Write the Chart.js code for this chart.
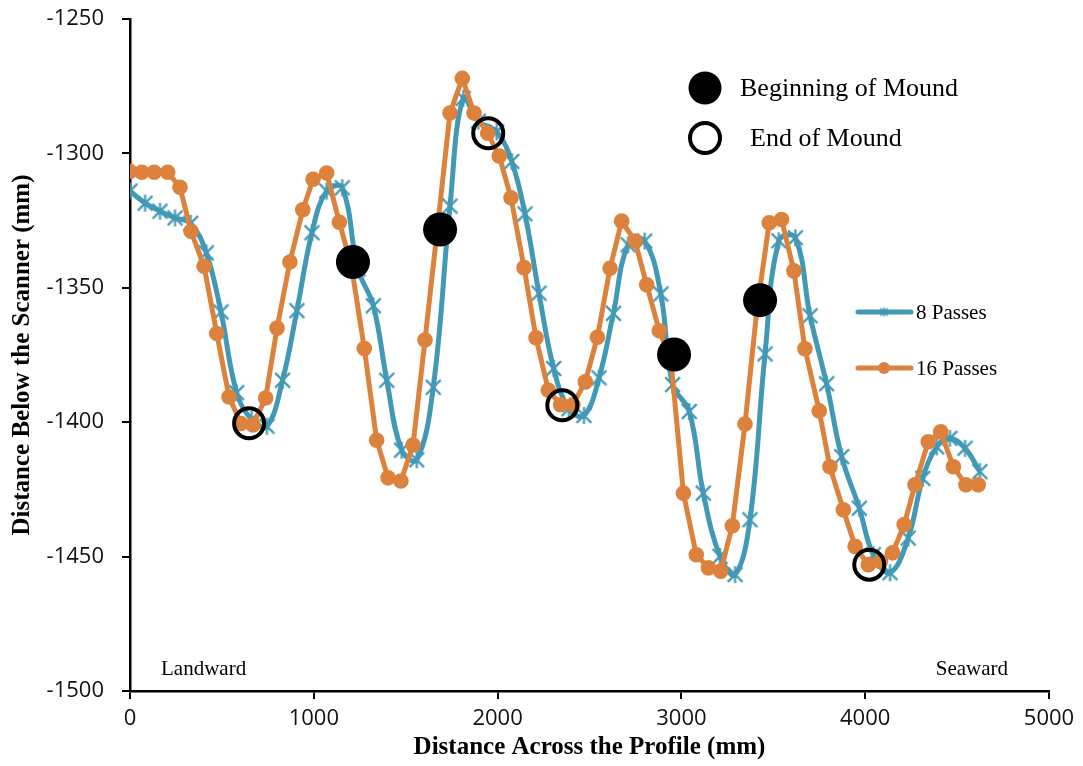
<!DOCTYPE html>
<html>
<head>
<meta charset="utf-8">
<script src="https://cdn.jsdelivr.net/npm/chart.js@4.4.0/dist/chart.umd.min.js"></script>
<style>
  html, body { margin: 0; padding: 0; background: #fff; }
  #wrap { width: 1083px; height: 766px; }
</style>
</head>
<body>
<div id="wrap"><canvas id="chart" width="1083" height="766"></canvas></div>
<script>
// 8 passes (teal, star markers)
const pass8X = [0,82,163,245,330,415,495,580,662,745,830,908,990,1070,1155,1240,1324,1397,1478,1560,
  1650,1741,1813,1895,1995,2077,2149,2225,2305,2388,2470,2552,2630,2710,2800,2888,2952,3043,3119,3210,
  3292,3373,3455,3530,3620,3700,3790,3872,3968,4044,4135,4234,4313,4389,4461,4543,4624];
const pass8Y = [-1314,-1318.5,-1321.5,-1324,-1326,-1337,-1359,-1389,-1399,-1401.5,-1384.4,-1358.5,-1329.5,-1314,-1312.8,
  -1343,-1356.7,-1384.4,-1410.4,-1414,-1387,-1319.6,-1279.5,-1288,-1292,-1303,-1322.5,-1352,-1380,-1395,
  -1397.5,-1383.5,-1359.5,-1334,-1332.6,-1352.3,-1386,-1396,-1426.4,-1449.9,-1456.7,-1436.3,-1374.6,-1332.5,-1331.4,
  -1360.4,-1385.7,-1412.8,-1432,-1449.3,-1456,-1443.1,-1420.9,-1409.2,-1406,-1409.7,-1418.4];

// 16 passes (orange, round markers)
const pass16X = [0,64,132,205,272,332,403,472,539,604,669,738,800,870,940,996,1070,1139,1205,1275,
  1342,1404,1474,1540,1605,1674,1741,1808,1872,1946,2009,2073,2144,2209,2276,2343,2410,2477,2543,2612,
  2675,2748,2811,2880,2943,3011,3081,3147,3214,3277,3346,3411,3478,3545,3612,3672,3750,3808,3881,3945,
  4017,4083,4149,4212,4271,4343,4411,4480,4548,4615];
const pass16Y = [-1306.7,-1307,-1307,-1307,-1312.6,-1329,-1342,-1367,-1390.6,-1400.5,-1401,-1391,-1365,-1340.4,-1321,
  -1309.6,-1307.3,-1325.6,-1342,-1372.6,-1406.7,-1420.7,-1421.9,-1408.5,-1369.4,-1327,-1285,-1272.1,-1285,-1292.5,
  -1301,-1316.5,-1342.5,-1368.6,-1388.1,-1393.5,-1393.5,-1385,-1368.4,-1342.7,-1325.2,-1332.6,-1348.9,-1366,-1377,
  -1426.4,-1449.3,-1454.2,-1455.4,-1438.5,-1400.7,-1358,-1325.8,-1324.6,-1343.7,-1372.7,-1395.8,-1416.6,-1432.6,-1446.2,
  -1453,-1451.8,-1448.6,-1438.1,-1423.3,-1407.3,-1403.6,-1416.6,-1423.3,-1423.3];

// mound markers
const beginX = [1213, 1687, 2960, 3428];
const beginY = [-1340.4, -1328.3, -1374.8, -1354.6];
const endX = [648, 1949, 2352, 4022];
const endY = [-1400.4, -1292.5, -1393.7, -1453];

const xTicks = [0, 1000, 2000, 3000, 4000, 5000];
const yTicks = [-1500, -1450, -1400, -1350, -1300, -1250];

const TEAL = '#4299b5';
const ORANGE = '#dc823c';
const serif = '"Liberation Serif", "Times New Roman", serif';
const sans = '"Open Sans", sans-serif';

function pts(xs, ys) {
  return xs.map((x, i) => ({ x: x, y: ys[i] }));
}

// Excel style star: X with a vertical stroke
function starMark(size, lw) {
  const c = document.createElement('canvas');
  c.width = size; c.height = size;
  const g = c.getContext('2d');
  g.strokeStyle = TEAL;
  g.lineWidth = lw;
  const m = lw / 2 + 1;
  g.beginPath();
  g.moveTo(m, m); g.lineTo(size - m, size - m);
  g.moveTo(size - m, m); g.lineTo(m, size - m);
  g.moveTo(size / 2, 1); g.lineTo(size / 2, size - 1);
  g.stroke();
  return c;
}
const star = starMark(19, 2.2);
const smallStar = starMark(11, 1.6);

const annotate = {
  id: 'annotate',
  afterDraw(chart) {
    const ctx = chart.ctx;
    ctx.save();
    ctx.textBaseline = 'middle';
    ctx.fillStyle = '#000';

    // mound legend
    ctx.beginPath(); ctx.arc(705, 88, 16.5, 0, Math.PI * 2); ctx.fill();
    ctx.lineWidth = 4; ctx.strokeStyle = '#000';
    ctx.beginPath(); ctx.arc(705, 138, 15, 0, Math.PI * 2); ctx.stroke();
    ctx.font = '26px ' + serif;
    ctx.fillText('Beginning of Mound', 740, 89);
    ctx.fillText('End of Mound', 750, 139);

    // series legend
    ctx.lineCap = 'round';
    ctx.lineWidth = 5;
    ctx.strokeStyle = TEAL;
    ctx.beginPath(); ctx.moveTo(858, 312); ctx.lineTo(911, 312); ctx.stroke();
    ctx.drawImage(smallStar, 884 - 5.5, 312 - 5.5);
    ctx.strokeStyle = ORANGE;
    ctx.beginPath(); ctx.moveTo(858, 368); ctx.lineTo(911, 368); ctx.stroke();
    ctx.fillStyle = ORANGE;
    ctx.beginPath(); ctx.arc(884, 368, 6, 0, Math.PI * 2); ctx.fill();

    ctx.fillStyle = '#000';
    ctx.font = '21px ' + serif;
    ctx.fillText('8 Passes', 916, 313);
    ctx.fillText('16 Passes', 916, 369);

    // direction labels
    ctx.fillText('Landward', 161, 669);
    ctx.textAlign = 'right';
    ctx.fillText('Seaward', 1008, 669);
    ctx.restore();
  }
};

new Chart(document.getElementById('chart'), {
  type: 'scatter',
  data: {
    datasets: [
      {
        label: 'Beginning of Mound',
        data: pts(beginX, beginY),
        pointRadius: 17,
        pointBackgroundColor: '#000',
        pointBorderWidth: 0,
        showLine: false
      },
      {
        label: 'End of Mound',
        data: pts(endX, endY),
        pointRadius: 15,
        pointBackgroundColor: 'rgba(0,0,0,0)',
        pointBorderColor: '#000',
        pointBorderWidth: 4,
        showLine: false
      },
      {
        label: '16 Passes',
        data: pts(pass16X, pass16Y),
        showLine: true,
        borderColor: ORANGE,
        borderWidth: 5,
        tension: 0,
        pointRadius: 7.8,
        pointBackgroundColor: ORANGE,
        pointBorderWidth: 0
      },
      {
        label: '8 Passes',
        data: pts(pass8X, pass8Y),
        showLine: true,
        borderColor: TEAL,
        borderWidth: 5,
        tension: 0.4,
        pointStyle: star,
        pointRadius: 9
      }
    ]
  },
  options: {
    responsive: false,
    animation: false,
    devicePixelRatio: 1,
    layout: { padding: { top: 17, right: 34, left: 0, bottom: 0 } },
    plugins: {
      legend: { display: false },
      tooltip: { enabled: false }
    },
    scales: {
      x: {
        type: 'linear',
        min: 0, max: 5000,
        afterBuildTicks: s => { s.ticks = xTicks.map(v => ({ value: v })); },
        afterFit: s => { s.height = 75; s.paddingLeft = 0; s.paddingRight = 0; },
        ticks: { color: '#111', font: { family: sans, size: 22 }, padding: 7, callback: v => String(v) },
        grid: { drawOnChartArea: false, drawTicks: true, tickLength: 8, color: '#000', lineWidth: 2 },
        border: { color: '#000', width: 2.5 },
        title: {
          display: true,
          text: 'Distance Across the Profile (mm)',
          color: '#000',
          font: { family: serif, size: 25, weight: 'bold' },
          padding: { top: 0, bottom: 3 }
        }
      },
      y: {
        type: 'linear',
        min: -1500, max: -1250,
        afterBuildTicks: s => { s.ticks = yTicks.map(v => ({ value: v })); },
        afterFit: s => { s.width = 130; s.paddingTop = 0; s.paddingBottom = 0; },
        ticks: { color: '#111', font: { family: sans, size: 22 }, padding: 18, callback: v => String(v) },
        grid: { drawOnChartArea: false, drawTicks: true, tickLength: 8, color: '#000', lineWidth: 2 },
        border: { color: '#000', width: 2.5 },
        title: {
          display: true,
          text: 'Distance Below the Scanner (mm)',
          color: '#000',
          font: { family: serif, size: 25, weight: 'bold' },
          padding: { top: 8, bottom: 0 }
        }
      }
    }
  },
  plugins: [annotate]
});
</script>
</body>
</html>
